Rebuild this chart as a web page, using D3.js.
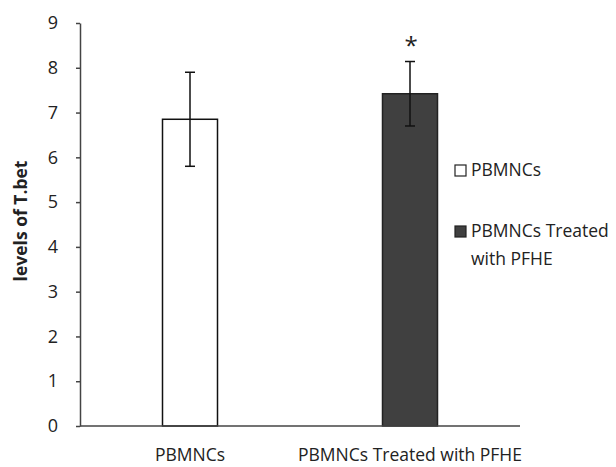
<!DOCTYPE html>
<html>
<head>
<meta charset="utf-8">
<script src="https://cdn.jsdelivr.net/npm/d3@7"></script>
<style>
  body { margin: 0; background: #fff; }
  text { font-family: "Open Sans", sans-serif; fill: #222; }
  .axis path, .axis line { stroke: #444; stroke-width: 1.5; }
</style>
</head>
<body>
<svg id="myGraph" width="616" height="467"></svg>
<script>
// data
var categories = ["PBMNCs", "PBMNCs Treated with PFHE"];
var values = [6.85, 7.42];
var errors = [1.05, 0.72];
var yTicks = [0, 1, 2, 3, 4, 5, 6, 7, 8, 9];
var legendLabels = [["PBMNCs"], ["PBMNCs Treated", "with PFHE"]];
var fills = ["#ffffff", "#404040"];
var strokes = ["#111111", "#222222"];

var svg = d3.select("#myGraph");

var x = d3.scaleBand().domain(categories).range([80, 520]).padding(0);
var y = d3.scaleLinear().domain([0, 9]).range([426, 23]);
var barW = x.bandwidth() * 0.25;

// y axis
var yAxis = svg.append("g")
  .attr("class", "axis")
  .attr("transform", "translate(80,0)")
  .call(d3.axisLeft(y).tickValues(yTicks).tickSize(4).tickSizeOuter(0).tickPadding(18));
yAxis.selectAll("text").style("font-size", "18px").style("fill", "#222");

// bars
svg.selectAll("rect.bar")
  .data(values)
  .enter()
  .append("rect")
  .attr("class", "bar")
  .attr("x", function(d, i){ return x(categories[i]) + x.bandwidth()/2 - barW/2; })
  .attr("y", function(d){ return y(d); })
  .attr("width", barW)
  .attr("height", function(d){ return y(0) - y(d); })
  .style("fill", function(d, i){ return fills[i]; })
  .style("stroke", function(d, i){ return strokes[i]; })
  .style("stroke-width", 1.5);

// x axis line (over bar bottoms)
svg.append("line")
  .attr("x1", 80).attr("x2", 520)
  .attr("y1", y(0)).attr("y2", y(0))
  .style("stroke", "#444").style("stroke-width", 1.5);

// category labels
svg.selectAll("text.cat")
  .data(categories)
  .enter()
  .append("text")
  .attr("class", "cat")
  .attr("x", function(d){ return x(d) + x.bandwidth()/2; })
  .attr("y", 461)
  .attr("text-anchor", "middle")
  .style("font-size", "17.5px")
  .text(function(d){ return d; });

// error bars
var err = svg.selectAll("g.err")
  .data(values)
  .enter()
  .append("g")
  .attr("class", "err")
  .style("stroke", "#111")
  .style("stroke-width", 1.5);
err.append("line")
  .attr("x1", function(d, i){ return x(categories[i]) + x.bandwidth()/2; })
  .attr("x2", function(d, i){ return x(categories[i]) + x.bandwidth()/2; })
  .attr("y1", function(d, i){ return y(d + errors[i]); })
  .attr("y2", function(d, i){ return y(d - errors[i]); });
[1, -1].forEach(function(s){
  err.append("line")
    .attr("x1", function(d, i){ return x(categories[i]) + x.bandwidth()/2 - 5; })
    .attr("x2", function(d, i){ return x(categories[i]) + x.bandwidth()/2 + 5; })
    .attr("y1", function(d, i){ return y(d + s*errors[i]); })
    .attr("y2", function(d, i){ return y(d + s*errors[i]); });
});

// significance mark
svg.append("text")
  .attr("x", x(categories[1]) + x.bandwidth()/2 + 1)
  .attr("y", y(values[1] + errors[1]) - 8)
  .attr("text-anchor", "middle")
  .style("font-size", "24px")
  .text("*");

// y label
svg.append("text")
  .attr("transform", "translate(27,221) rotate(-90)")
  .attr("text-anchor", "middle")
  .style("font-size", "17.5px")
  .style("font-weight", "bold")
  .text("levels of T.bet");

// legend
var legend = svg.selectAll("g.legend")
  .data(legendLabels)
  .enter()
  .append("g")
  .attr("class", "legend")
  .attr("transform", function(d, i){ return "translate(455," + (165 + i*61) + ")"; });
legend.append("rect")
  .attr("width", 11).attr("height", 11)
  .style("fill", function(d, i){ return fills[i]; })
  .style("stroke", "#222").style("stroke-width", 1.2);
legend.each(function(lines){
  var t = d3.select(this).append("text")
    .attr("x", 16).attr("y", 11)
    .style("font-size", "17.5px");
  lines.forEach(function(l, j){
    t.append("tspan").attr("x", 16).attr("dy", j ? 28 : 0).text(l);
  });
});
</script>
</body>
</html>
